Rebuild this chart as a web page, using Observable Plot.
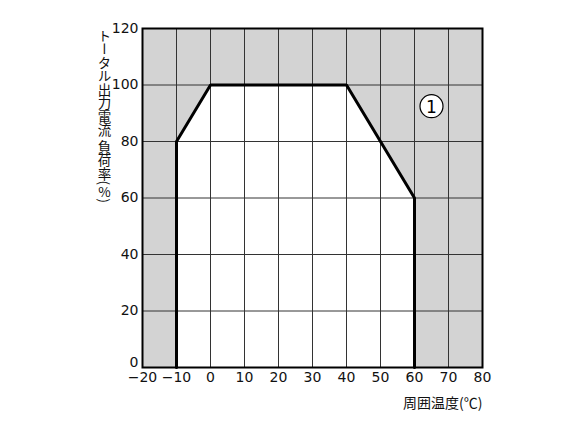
<!DOCTYPE html>
<html>
<head>
<meta charset="utf-8">
<script src="https://cdn.jsdelivr.net/npm/d3@7"></script>
<script src="https://cdn.jsdelivr.net/npm/@observablehq/plot@0.6"></script>
<style>
  body { margin: 0; background: #fff; }
  #wrap { position: relative; width: 583px; height: 437px; }
  #ylab {
    position: absolute; left: 97px; top: 29px;
    writing-mode: vertical-rl; text-orientation: mixed;
    font-family: "Noto Sans CJK JP", sans-serif; font-size: 13.5px;
    line-height: 1; color: #111; white-space: nowrap;
  }
</style>
</head>
<body>
<div id="wrap"><div id="ylab">トータル出力電流 負荷率(<span style="text-orientation: upright">%</span>)</div></div>
<script>
const xTicks = [-20, -10, 0, 10, 20, 30, 40, 50, 60, 70, 80];
const yTicks = [0, 20, 40, 60, 80, 100, 120];
const tempC = [-10, -10, 0, 40, 60, 60];
const loadPct = [0, 80, 100, 100, 60, 0];
const markerLabel = ["1"];
const markerX = [65];
const markerY = [92.5];
const xLabel = "周囲温度(℃)";

const envelope = tempC.map((t, i) => ({t, v: loadPct[i]}));
const marker = markerLabel.map((s, i) => ({s, x: markerX[i], y: markerY[i]}));

const chart = Plot.plot({
  width: 583, height: 437,
  marginLeft: 142, marginRight: 101, marginTop: 28, marginBottom: 70,
  style: {fontFamily: "DejaVu Sans, sans-serif", fontSize: "14px", color: "#111", background: "transparent"},
  x: {domain: [-20, 80]},
  y: {domain: [0, 120]},
  marks: [
    Plot.frame({fill: "#d3d3d3"}),
    Plot.areaY(envelope, {x: "t", y: "v", fill: "#fff"}),
    Plot.ruleX(xTicks, {stroke: "#333", strokeWidth: 1}),
    Plot.ruleY(yTicks, {stroke: "#333", strokeWidth: 1}),
    Plot.line(envelope, {x: "t", y: "v", stroke: "#000", strokeWidth: 3, strokeLinejoin: "miter"}),
    Plot.frame({stroke: "#000", strokeWidth: 2}),
    Plot.dot(marker, {x: "x", y: "y", r: 11.5, fill: "#fff", stroke: "#000", strokeWidth: 1.2}),
    Plot.text(marker, {x: "x", y: "y", text: "s", fontSize: 17, fill: "#000", dy: 1}),
    Plot.axisY({ticks: yTicks.filter(d => d !== 0), tickSize: 0, tickPadding: 4, label: null}),
    Plot.axisY({ticks: yTicks.filter(d => d === 0), tickSize: 0, tickPadding: 4, dy: -5, label: null}),
    Plot.axisX({ticks: xTicks, tickSize: 0, tickPadding: 5, label: null, tickFormat: d => String(d).replace("-", "\u2212")}),
    Plot.text([xLabel], {frameAnchor: "bottom-right", text: d => d, dy: 40, textAnchor: "end", fontFamily: "Noto Sans CJK JP", fontSize: 14, fill: "#111"})
  ]
});
document.getElementById("wrap").appendChild(chart);
chart.style.position = "absolute";
chart.style.left = "0";
chart.style.top = "0";
</script>
</body>
</html>
